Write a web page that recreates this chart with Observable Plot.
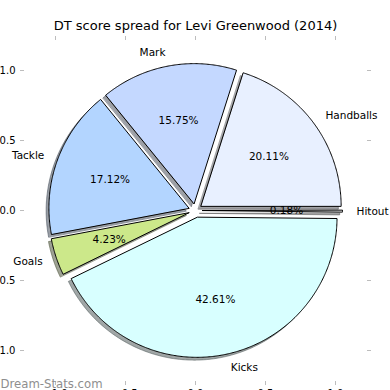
<!DOCTYPE html>
<html>
<head>
<meta charset="utf-8">
<script src="https://cdn.jsdelivr.net/npm/d3@7"></script>
<script src="https://cdn.jsdelivr.net/npm/@observablehq/plot@0.6"></script>
<style>
  html, body { margin: 0; padding: 0; background: #fff; }
  svg { display: block; }
</style>
</head>
<body>
<div id="chart"></div>
<script>
// ---- data ----
const title = "DT score spread for Levi Greenwood (2014)";
const categories = ["Handballs", "Mark", "Tackle", "Goals", "Kicks", "Hitout"];
const values = [20.11, 15.75, 17.12, 4.23, 42.61, 0.18];
const sliceColors = ["#e8f0ff", "#c4d8ff", "#b3d5ff", "#cce88a", "#d8ffff", "#ffffff"];
const yTickValues = [-1.0, -0.5, 0.0, 0.5, 1.0];
const xTickValues = [-1.0, -0.5, 0.0, 0.5, 1.0];
const watermark = "Dream-Stats.com";

// ---- layout constants ----
const EXPLODE = 0.05;
const SHADOW = -0.02;
const LABEL_DIST = 1.1;
const PCT_DIST = 0.6;
const rad = (d) => d * Math.PI / 180;

const total = d3.sum(values);
let acc = 0;
const wedges = categories.map((label, i) => {
  const t1 = acc / total * 360;
  acc += values[i];
  const t2 = acc / total * 360;
  const mid = (t1 + t2) / 2;
  const cx = EXPLODE * Math.cos(rad(mid));
  const cy = EXPLODE * Math.sin(rad(mid));
  return {label, value: values[i], color: sliceColors[i], t1, t2, mid, cx, cy,
          pct: (values[i] / total * 100).toFixed(2) + "%"};
});

function wedgePoints(w, ox = 0, oy = 0) {
  const cx = w.cx + ox, cy = w.cy + oy;
  const pts = [{x: cx, y: cy}];
  const n = Math.max(2, Math.ceil((w.t2 - w.t1) / 0.5));
  for (let k = 0; k <= n; k++) {
    const a = rad(w.t1 + (w.t2 - w.t1) * k / n);
    pts.push({x: cx + Math.cos(a), y: cy + Math.sin(a)});
  }
  return pts;
}

const shadowMarks = wedges.map(w => {
  const c = d3.rgb(w.color);
  const sc = d3.rgb(c.r * 0.3, c.g * 0.3, c.b * 0.3).formatHex();
  return Plot.line(wedgePoints(w, SHADOW, SHADOW), {
    x: "x", y: "y", curve: "linear-closed",
    fill: sc, fillOpacity: 0.5, stroke: sc, strokeOpacity: 0.5, strokeWidth: 1
  });
});

const wedgeMarks = wedges.map(w =>
  Plot.line(wedgePoints(w), {
    x: "x", y: "y", curve: "linear-closed",
    fill: w.color, stroke: "black", strokeWidth: 1
  })
);

const labelData = wedges.map(w => ({
  label: w.label,
  x: w.cx + LABEL_DIST * Math.cos(rad(w.mid)),
  y: w.cy + LABEL_DIST * Math.sin(rad(w.mid))
}));
const pctData = wedges.map(w => ({
  pct: w.pct,
  x: w.cx + PCT_DIST * Math.cos(rad(w.mid)),
  y: w.cy + PCT_DIST * Math.sin(rad(w.mid))
}));

const fmt = (d) => (d < 0 ? "\u2212" : "") + Math.abs(d).toFixed(1);
const tickColor = "#bdbdbd";

const chart = Plot.plot({
  width: 390,
  height: 390,
  marginLeft: 20,
  marginRight: 20,
  marginTop: 35,
  marginBottom: 5,
  style: {fontFamily: "DejaVu Sans", fontSize: "10px", background: "white", color: "black"},
  x: {domain: [-1.25, 1.25], axis: null},
  y: {domain: [-1.25, 1.25], axis: null},
  marks: [
    // tick marks (inward), gray
    Plot.axisY(yTickValues, {anchor: "left", tickSize: -4, tickPadding: 9, stroke: tickColor, tickFormat: () => "", label: null}),
    Plot.axisY(yTickValues, {anchor: "right", tickSize: -4, stroke: tickColor, tickFormat: () => "", label: null}),
    Plot.axisX(xTickValues, {anchor: "top", tickSize: -4, stroke: tickColor, tickFormat: () => "", label: null}),
    Plot.axisX(xTickValues, {anchor: "bottom", tickSize: -4, stroke: tickColor, tickFormat: () => "", label: null}),
    // tick labels
    Plot.text(yTickValues, {y: d => d, text: fmt, frameAnchor: "left", textAnchor: "end", dx: -5, fontSize: 10, fill: "black"}),
    Plot.text(xTickValues, {x: d => d, text: fmt, frameAnchor: "bottom", lineAnchor: "top", dy: 4, fontSize: 10, fill: "black"}),
    ...shadowMarks,
    ...wedgeMarks,
    Plot.text(labelData.filter(d => d.x < 0), {x: "x", y: "y", text: "label",
      textAnchor: "end", lineAnchor: "middle", fontSize: 10.5, fill: "black"}),
    Plot.text(labelData.filter(d => d.x >= 0), {x: "x", y: "y", text: "label",
      textAnchor: "start", lineAnchor: "middle", fontSize: 10.5, fill: "black"}),
    Plot.text(pctData, {x: "x", y: "y", text: "pct", textAnchor: "middle", lineAnchor: "middle", fontSize: 10.5, fill: "black"}),
    Plot.text([title], {text: d => d, frameAnchor: "top", lineAnchor: "bottom", dy: -6, fontSize: 13, fill: "black"}),
    Plot.text([watermark], {text: d => d, frameAnchor: "bottom-left", textAnchor: "start", lineAnchor: "bottom", dx: -20, dy: 2, fontSize: 11.7, fill: "#8e8e8e"})
  ]
});

document.getElementById("chart").appendChild(chart);
</script>
</body>
</html>
